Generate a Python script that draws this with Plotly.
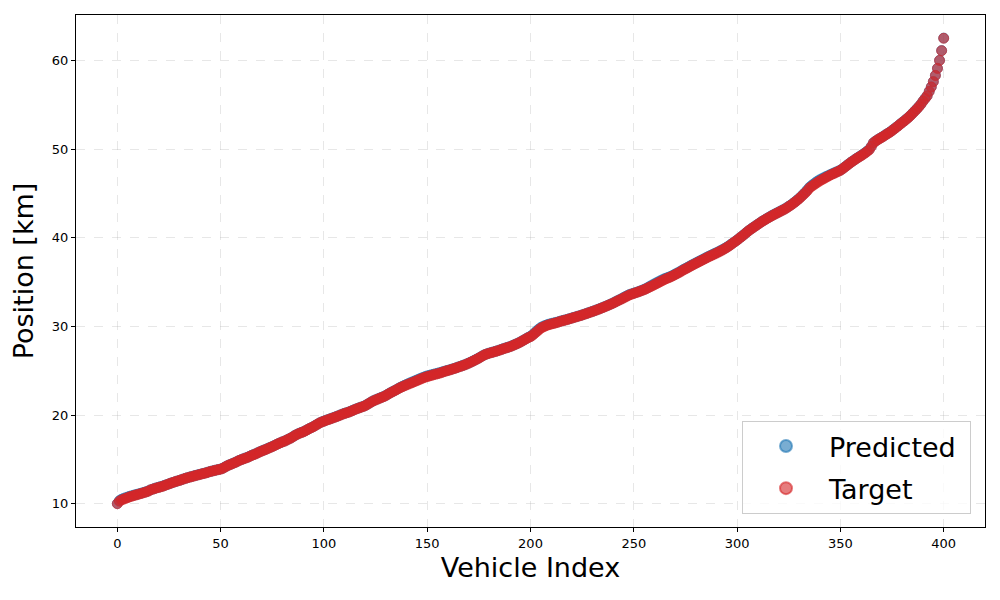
import plotly.graph_objects as go

vehicle_index = list(range(401))

target = [
    10.00, 10.28, 10.42, 10.51, 10.60, 10.68, 10.78, 10.84, 10.92, 10.98,
    11.05, 11.12, 11.18, 11.26, 11.33, 11.41, 11.55, 11.63, 11.70, 11.78,
    11.84, 11.90, 11.97, 12.06, 12.15, 12.24, 12.32, 12.40, 12.49, 12.55,
    12.62, 12.70, 12.78, 12.86, 12.93, 13.00, 13.05, 13.12, 13.19, 13.24,
    13.30, 13.37, 13.42, 13.48, 13.56, 13.63, 13.68, 13.74, 13.80, 13.85,
    13.90, 13.98, 14.12, 14.25, 14.36, 14.44, 14.55, 14.64, 14.76, 14.88,
    14.97, 15.05, 15.14, 15.22, 15.33, 15.44, 15.53, 15.62, 15.74, 15.85,
    15.95, 16.04, 16.13, 16.24, 16.34, 16.44, 16.55, 16.67, 16.78, 16.88,
    16.98, 17.06, 17.18, 17.30, 17.40, 17.55, 17.70, 17.82, 17.93, 18.02,
    18.10, 18.22, 18.35, 18.48, 18.58, 18.70, 18.85, 18.98, 19.12, 19.22,
    19.30, 19.40, 19.48, 19.56, 19.64, 19.73, 19.82, 19.90, 20.00, 20.10,
    20.18, 20.25, 20.33, 20.42, 20.52, 20.62, 20.72, 20.80, 20.88, 20.96,
    21.06, 21.20, 21.34, 21.48, 21.60, 21.70, 21.80, 21.90, 21.99, 22.08,
    22.20, 22.34, 22.48, 22.60, 22.72, 22.84, 22.98, 23.10, 23.20, 23.30,
    23.40, 23.50, 23.59, 23.68, 23.78, 23.88, 23.98, 24.08, 24.18, 24.26,
    24.34, 24.40, 24.47, 24.54, 24.60, 24.66, 24.72, 24.80, 24.88, 24.96,
    25.02, 25.09, 25.16, 25.24, 25.32, 25.40, 25.48, 25.56, 25.64, 25.74,
    25.84, 25.95, 26.06, 26.18, 26.30, 26.42, 26.56, 26.70, 26.82, 26.90,
    26.97, 27.04, 27.10, 27.17, 27.24, 27.32, 27.40, 27.48, 27.56, 27.63,
    27.70, 27.80, 27.90, 28.00, 28.10, 28.22, 28.35, 28.48, 28.62, 28.74,
    28.84, 29.00, 29.20, 29.40, 29.60, 29.80, 29.92, 30.02, 30.12, 30.20,
    30.26, 30.32, 30.38, 30.45, 30.53, 30.60, 30.66, 30.72, 30.79, 30.86,
    30.93, 31.00, 31.07, 31.14, 31.20, 31.28, 31.36, 31.44, 31.52, 31.60,
    31.68, 31.76, 31.85, 31.94, 32.03, 32.12, 32.22, 32.32, 32.42, 32.52,
    32.62, 32.74, 32.86, 32.97, 33.08, 33.20, 33.32, 33.44, 33.56, 33.64,
    33.72, 33.80, 33.88, 33.96, 34.05, 34.14, 34.24, 34.36, 34.47, 34.58,
    34.70, 34.82, 34.94, 35.06, 35.18, 35.30, 35.40, 35.50, 35.60, 35.72,
    35.84, 35.96, 36.08, 36.22, 36.36, 36.48, 36.60, 36.73, 36.86, 36.98,
    37.10, 37.22, 37.34, 37.46, 37.58, 37.70, 37.82, 37.93, 38.04, 38.15,
    38.26, 38.38, 38.50, 38.62, 38.76, 38.90, 39.05, 39.22, 39.40, 39.56,
    39.73, 39.92, 40.10, 40.28, 40.48, 40.68, 40.86, 41.02, 41.18, 41.34,
    41.50, 41.66, 41.82, 41.96, 42.10, 42.24, 42.36, 42.50, 42.62, 42.74,
    42.86, 42.98, 43.10, 43.22, 43.36, 43.52, 43.67, 43.84, 44.02, 44.20,
    44.40, 44.62, 44.84, 45.06, 45.30, 45.60, 45.78, 45.94, 46.10, 46.26,
    46.40, 46.54, 46.66, 46.80, 46.92, 47.05, 47.16, 47.26, 47.38, 47.48,
    47.60, 47.76, 47.94, 48.12, 48.30, 48.48, 48.64, 48.80, 48.96, 49.10,
    49.24, 49.40, 49.56, 49.74, 49.92, 50.30, 50.70, 50.88, 51.04, 51.18,
    51.32, 51.46, 51.62, 51.76, 51.90, 52.08, 52.26, 52.44, 52.62, 52.82,
    53.00, 53.18, 53.38, 53.58, 53.80, 54.04, 54.28, 54.52, 54.78, 55.06,
    55.40, 55.70, 56.00, 56.50, 57.00, 57.60, 58.30, 59.10, 60.00, 61.10,
    62.50,
]

predicted = [
    10.02, 10.35, 10.50, 10.60, 10.68, 10.76, 10.84, 10.90, 10.97, 11.03,
    11.09, 11.15, 11.22, 11.29, 11.36, 11.44, 11.56, 11.64, 11.72, 11.80,
    11.86, 11.93, 12.00, 12.08, 12.16, 12.25, 12.33, 12.41, 12.49, 12.56,
    12.63, 12.71, 12.79, 12.87, 12.94, 13.01, 13.07, 13.14, 13.20, 13.26,
    13.32, 13.38, 13.44, 13.50, 13.57, 13.64, 13.70, 13.76, 13.81, 13.86,
    13.92, 14.00, 14.13, 14.26, 14.37, 14.46, 14.56, 14.66, 14.77, 14.89,
    14.98, 15.07, 15.16, 15.24, 15.35, 15.46, 15.55, 15.64, 15.76, 15.87,
    15.97, 16.06, 16.15, 16.26, 16.36, 16.46, 16.57, 16.68, 16.79, 16.89,
    16.99, 17.08, 17.19, 17.31, 17.42, 17.56, 17.71, 17.83, 17.94, 18.04,
    18.12, 18.23, 18.36, 18.49, 18.60, 18.72, 18.86, 18.99, 19.13, 19.24,
    19.32, 19.42, 19.50, 19.58, 19.66, 19.75, 19.84, 19.92, 20.02, 20.12,
    20.20, 20.27, 20.35, 20.44, 20.54, 20.64, 20.73, 20.82, 20.90, 20.98,
    21.08, 21.21, 21.35, 21.49, 21.62, 21.72, 21.82, 21.92, 22.01, 22.10,
    22.22, 22.36, 22.50, 22.62, 22.74, 22.86, 23.00, 23.13, 23.24, 23.35,
    23.46, 23.56, 23.66, 23.76, 23.86, 23.96, 24.06, 24.16, 24.25, 24.34,
    24.42, 24.48, 24.54, 24.60, 24.66, 24.72, 24.78, 24.85, 24.92, 24.99,
    25.05, 25.12, 25.19, 25.26, 25.34, 25.42, 25.50, 25.58, 25.66, 25.76,
    25.86, 25.97, 26.08, 26.20, 26.32, 26.44, 26.58, 26.71, 26.83, 26.92,
    26.99, 27.06, 27.12, 27.19, 27.26, 27.34, 27.42, 27.50, 27.58, 27.65,
    27.72, 27.82, 27.92, 28.02, 28.12, 28.24, 28.37, 28.50, 28.64, 28.78,
    28.88, 29.06, 29.28, 29.50, 29.70, 29.88, 30.00, 30.10, 30.19, 30.26,
    30.32, 30.38, 30.43, 30.49, 30.56, 30.63, 30.69, 30.75, 30.81, 30.88,
    30.95, 31.02, 31.09, 31.16, 31.22, 31.30, 31.38, 31.46, 31.54, 31.62,
    31.70, 31.78, 31.87, 31.96, 32.05, 32.14, 32.24, 32.34, 32.44, 32.54,
    32.65, 32.77, 32.89, 33.00, 33.12, 33.25, 33.38, 33.50, 33.60, 33.68,
    33.75, 33.83, 33.91, 33.99, 34.08, 34.18, 34.29, 34.42, 34.55, 34.68,
    34.80, 34.93, 35.05, 35.17, 35.28, 35.39, 35.48, 35.56, 35.66, 35.77,
    35.90, 36.02, 36.14, 36.28, 36.42, 36.54, 36.66, 36.79, 36.92, 37.04,
    37.16, 37.28, 37.40, 37.52, 37.64, 37.76, 37.88, 37.99, 38.10, 38.21,
    38.32, 38.43, 38.55, 38.67, 38.80, 38.94, 39.09, 39.25, 39.42, 39.58,
    39.75, 39.93, 40.11, 40.30, 40.50, 40.69, 40.87, 41.04, 41.20, 41.36,
    41.52, 41.68, 41.84, 41.98, 42.12, 42.26, 42.39, 42.53, 42.65, 42.77,
    42.89, 43.01, 43.13, 43.25, 43.39, 43.55, 43.70, 43.87, 44.05, 44.24,
    44.44, 44.66, 44.90, 45.14, 45.40, 45.68, 45.88, 46.06, 46.24, 46.40,
    46.54, 46.66, 46.78, 46.90, 47.00, 47.12, 47.22, 47.32, 47.42, 47.52,
    47.63, 47.78, 47.96, 48.14, 48.32, 48.50, 48.66, 48.82, 48.98, 49.13,
    49.28, 49.44, 49.60, 49.78, 49.98, 50.32, 50.72, 50.90, 51.06, 51.20,
    51.34, 51.48, 51.64, 51.78, 51.93, 52.10, 52.28, 52.46, 52.64, 52.84,
    53.02, 53.20, 53.40, 53.60, 53.82, 54.06, 54.30, 54.54, 54.80, 55.08,
    55.42, 55.72, 56.02, 56.52, 57.02, 57.62, 58.32, 59.12, 60.02, 61.12,
    62.52,
]

x_ticks = [0, 50, 100, 150, 200, 250, 300, 350, 400]
y_ticks = [10, 20, 30, 40, 50, 60]

FONT = "DejaVu Sans"

fig = go.Figure()
fig.add_trace(go.Scatter(
    x=vehicle_index, y=predicted, mode="markers", name="Predicted\u00a0",
    legendgroup="pred",
    marker=dict(size=10, color="rgba(31,119,180,0.6)",
                line=dict(width=1, color="rgba(31,119,180,0.6)")),
))
fig.add_trace(go.Scatter(
    x=vehicle_index, y=target, mode="markers", name="Target",
    legendgroup="targ",
    marker=dict(size=10, color="rgba(214,39,40,0.6)",
                line=dict(width=1, color="rgba(214,39,40,0.6)")),
))

axis_common = dict(
    showline=True, linecolor="black", linewidth=1, mirror=True,
    ticks="outside", ticklen=4, tickcolor="black", tickwidth=1,
    tickfont=dict(family=FONT, size=13, color="black"),
    showgrid=True, gridcolor="rgba(176,176,176,0.3)", griddash="dash", gridwidth=1,
    zeroline=False, automargin=False,
)

fig.update_xaxes(
    range=[-20, 420], tickvals=x_ticks,
    title=dict(text="Vehicle Index", font=dict(family=FONT, size=27, color="black"), standoff=8),
    **axis_common,
)
fig.update_yaxes(
    range=[7.375, 65.125], tickvals=y_ticks,
    title=dict(text="Position [km]", font=dict(family=FONT, size=27, color="black"), standoff=12),
    **axis_common,
)

# The page body adds an 8px margin, so the figure is sized 984x584
fig.update_layout(
    width=984, height=584,
    margin=dict(l=68, r=7, t=7, b=65),
    paper_bgcolor="white", plot_bgcolor="white",
    font=dict(family=FONT, color="black"),
    legend=dict(
        x=0.9846, y=0.0254, xanchor="right", yanchor="bottom",
        bgcolor="rgba(255,255,255,0.8)", bordercolor="#cccccc", borderwidth=1,
        font=dict(family=FONT, size=27, color="black"),
        itemsizing="constant", itemwidth=76,
        tracegroupgap=4,
    ),
    showlegend=True,
)

fig.write_html("out.html")
